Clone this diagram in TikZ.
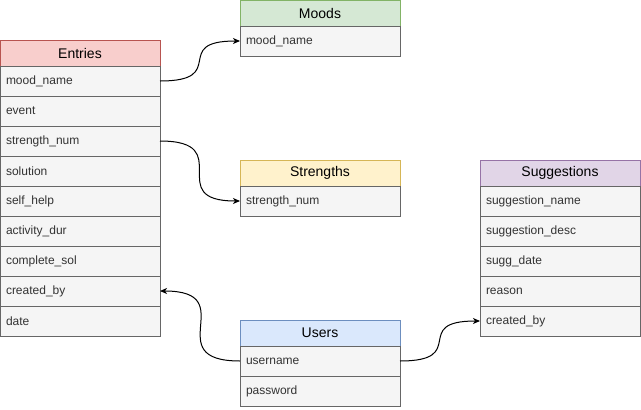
\documentclass[tikz,border=0pt]{standalone}
\usepackage{fontspec}
\setmainfont{Liberation Sans}
\usepackage{tikz}
\usetikzlibrary{positioning, arrows.meta}

\definecolor{rowfill}{HTML}{F5F5F5}
\definecolor{rowline}{HTML}{666666}
\definecolor{rowtext}{HTML}{333333}
\definecolor{redfill}{HTML}{F8CECC}
\definecolor{redline}{HTML}{B85450}
\definecolor{greenfill}{HTML}{D5E8D4}
\definecolor{greenline}{HTML}{82B366}
\definecolor{yellowfill}{HTML}{FFF2CC}
\definecolor{yellowline}{HTML}{D6B656}
\definecolor{purplefill}{HTML}{E1D5E7}
\definecolor{purpleline}{HTML}{9673A6}
\definecolor{bluefill}{HTML}{DAE8FC}
\definecolor{blueline}{HTML}{6C8EBF}

\begin{document}
\begin{tikzpicture}[
				x=1pt, y=-1pt,
				node distance = 0pt,
				every node/.style = {draw, line width=1pt, inner sep=0pt, outer sep=0pt},
				header/.style = {minimum width=160pt, minimum height=26pt, font=\fontsize{14}{16}\selectfont, anchor=north west},
				row/.style = {fill=rowfill, draw=rowline, text=rowtext, text width=148pt, inner xsep=6pt, minimum height=30pt, align=left, font=\fontsize{12}{14}\selectfont},
				link/.style = {line width=1pt, -{Stealth[length=7pt, width=6pt, inset=2pt]}}
			]
				\useasboundingbox (0,0) rectangle (641,410);
				%
				\node (e0) [header, fill=redfill, draw=redline] at (0,40) {Entries};
				\node (e1) [row, below=of e0] {mood\_name};
				\node (e2) [row, below=of e1] {event};
				\node (e3) [row, below=of e2] {strength\_num};
				\node (e4) [row, below=of e3] {solution};
				\node (e5) [row, below=of e4] {self\_help};
				\node (e6) [row, below=of e5] {activity\_dur};
				\node (e7) [row, below=of e6] {complete\_sol};
				\node (e8) [row, below=of e7] {created\_by};
				\node (e9) [row, below=of e8] {date};
				%
				\node (m0) [header, fill=greenfill, draw=greenline] at (240,0) {Moods};
				\node (m1) [row, below=of m0] {mood\_name};
				%
				\node (s0) [header, fill=yellowfill, draw=yellowline] at (240,160) {Strengths};
				\node (s1) [row, below=of s0] {strength\_num};
				%
				\node (g0) [header, fill=purplefill, draw=purpleline] at (480,160) {Suggestions};
				\node (g1) [row, below=of g0] {suggestion\_name};
				\node (g2) [row, below=of g1] {suggestion\_desc};
				\node (g3) [row, below=of g2] {sugg\_date};
				\node (g4) [row, below=of g3] {reason};
				\node (g5) [row, below=of g4] {created\_by};
				%
				\node (u0) [header, fill=bluefill, draw=blueline] at (240,320) {Users};
				\node (u1) [row, below=of u0] {username};
				\node (u2) [row, below=of u1] {password};

				%
				\draw[link] (e1.east) to[out=0, in=180, looseness=2] (m1.west);
				\draw[link] (e3.east) to[out=0, in=180, looseness=2] (s1.west);
				\draw[link] (u1.west) to[out=180, in=0, looseness=2] (e8.east);
				\draw[link] (u1.east) to[out=0, in=180, looseness=2] (g5.west);

			\end{tikzpicture}
\end{document}
